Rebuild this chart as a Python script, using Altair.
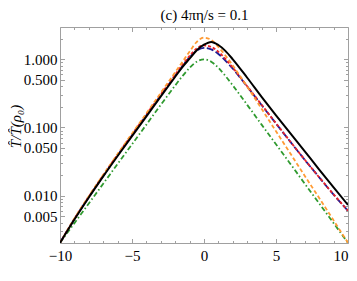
import altair as alt
import pandas as pd

x_vals = [-10, -9, -8, -7, -6, -5, -4, -3, -2, -1.5, -1, -0.5, 0, 0.5, 1, 1.5, 2, 3, 4, 5, 6, 7, 8, 9, 10]

black = [0.00202, 0.00444, 0.00935, 0.0191, 0.0381, 0.0747, 0.145, 0.285, 0.555, 0.77, 1.02, 1.36, 1.64,
         1.80, 1.62, 1.32, 1.00, 0.536, 0.281, 0.150, 0.0815, 0.0444, 0.0241, 0.0132, 0.00727]
orange = [0.00202, 0.0046, 0.0098, 0.0201, 0.0407, 0.081, 0.161, 0.322, 0.645, 0.916, 1.30, 1.80, 2.08,
          1.92, 1.52, 1.13, 0.81, 0.397, 0.1875, 0.0877, 0.0413, 0.0194, 0.0092, 0.00432, 0.00202]
red = [0.00202, 0.00456, 0.00965, 0.0198, 0.0399, 0.0787, 0.155, 0.305, 0.595, 0.831, 1.124, 1.44, 1.60,
       1.52, 1.288, 1.007, 0.753, 0.403, 0.215, 0.115, 0.0617, 0.0335, 0.0185, 0.0104, 0.0060]
blue = [0.00202, 0.00452, 0.0095, 0.0194, 0.039, 0.077, 0.151, 0.296, 0.575, 0.797, 1.071, 1.348, 1.47,
        1.40, 1.198, 0.95, 0.728, 0.397, 0.213, 0.114, 0.0614, 0.0334, 0.0185, 0.0103, 0.00596]
green = [0.00202, 0.00393, 0.00766, 0.0149, 0.0291, 0.0566, 0.110, 0.2145, 0.4135, 0.5655, 0.749, 0.923, 1.0,
         0.923, 0.749, 0.5655, 0.4135, 0.2145, 0.110, 0.0566, 0.0291, 0.0149, 0.00766, 0.00393, 0.00202]

x_label_values = [-10, -5, 0, 5, 10]
x_minor_values = [-9, -8, -7, -6, -4, -3, -2, -1, 1, 2, 3, 4, 6, 7, 8, 9]
y_label_values = [0.005, 0.01, 0.05, 0.1, 0.5, 1.0]
y_minor_values = [0.003, 0.004, 0.006, 0.007, 0.008, 0.009, 0.02, 0.03, 0.04, 0.06, 0.07, 0.08, 0.09,
                  0.2, 0.3, 0.4, 0.6, 0.7, 0.8, 0.9, 2.0]

TITLE = "(c) 4\u03c0\u03b7/s = 0.1"
YTITLE = "T\u0302/T\u0302(\u03c1\u2080)"

df = pd.DataFrame({"x": x_vals, "black": black, "orange": orange, "red": red,
                   "blue": blue, "green": green})

W, H = 288, 216
FONT = "Liberation Serif"
GRAY = "#a0a0a0"

xs = alt.Scale(domain=[-10, 10], nice=False, zero=False)
ys = alt.Scale(type="log", domain=[0.00201, 2.98], nice=False)


def line(col, color, dash, width, xaxis=None, yaxis=None):
    mk = dict(color=color, strokeWidth=width, interpolate="monotone", clip=True)
    if dash:
        mk["strokeDash"] = dash
    return alt.Chart(df).mark_line(**mk).encode(
        x=alt.X("x:Q", scale=xs, axis=xaxis),
        y=alt.Y(f"{col}:Q", scale=ys, axis=yaxis),
    )


label_x = alt.Axis(orient="bottom", values=x_label_values[:-1], ticks=False, domain=False, grid=False,
                   title=None, labelFont=FONT, labelFontSize=15, labelColor="black",
                   labelPadding=5, format="d", labelFlush=False)
label_y = alt.Axis(orient="left", values=y_label_values, ticks=False, domain=False, grid=False,
                   format=".3f", labelFont=FONT, labelFontSize=15, labelColor="black",
                   labelPadding=3, title=YTITLE, titleFont=FONT,
                   titleFontSize=15, titleFontStyle="italic", titleFontWeight="normal",
                   titleColor="black", titleX=-45, titleY=99, titleAngle=270,
                   titleAlign="center", titleBaseline="middle")


def tick_layer(xorient, xoff, yorient, yoff, xvals, yvals, size, title=None):
    xkw = dict(orient=xorient, offset=xoff, values=xvals, labels=False, domain=False,
               grid=False, tickSize=size, tickColor=GRAY, tickWidth=1)
    if title:
        xkw.update(title=title, titleFont=FONT, titleFontSize=15, titleFontWeight="normal",
                   titleColor="black", titleX=W / 2, titleY=-8, titleAlign="center",
                   titleBaseline="alphabetic")
    else:
        xkw["title"] = None
    ax = alt.Axis(**xkw)
    ay = alt.Axis(orient=yorient, offset=yoff, values=yvals, labels=False, domain=False,
                  grid=False, title=None, tickSize=size, tickColor=GRAY, tickWidth=1)
    return alt.Chart(df).mark_point(opacity=0).encode(
        x=alt.X("x:Q", scale=xs, axis=ax),
        y=alt.Y("green:Q", scale=ys, axis=ay),
    )


# last x label kept inside the page: flush with the end of the axis
last_label = alt.Chart(df).mark_point(opacity=0).encode(
    x=alt.X("x:Q", scale=xs, axis=alt.Axis(orient="bottom", values=x_label_values[-1:], ticks=False,
                                           domain=False, grid=False, title=None, labelFont=FONT,
                                           labelFontSize=15, labelColor="black", labelPadding=5,
                                           format="d", labelFlush=1)),
    y=alt.Y("green:Q", scale=ys, axis=None),
)

layers = [
    line("green", "#2f9a2f", [5, 2.5, 1.5, 2.5], 1.8, label_x, label_y),
    line("blue", "#1c1c96", [7, 2.5], 1.8),
    line("red", "#e8232a", [3, 2], 1.8),
    line("orange", "#ff9a33", [4, 2.5], 1.8),
    line("black", "#000000", None, 2.0),
    tick_layer("top", -H, "right", -W, x_label_values, y_label_values, 4.5),
    tick_layer("top", -H, "right", -W, x_minor_values, y_minor_values, 2.5),
    tick_layer("bottom", -H, "left", -W, x_label_values, y_label_values, 4.5, title=TITLE),
    tick_layer("bottom", -H, "left", -W, x_minor_values, y_minor_values, 2.5),
    last_label,
]

chart = alt.layer(*layers).resolve_axis(x="independent", y="independent").properties(
    width=W, height=H,
    autosize=alt.AutoSizeParams(type="none"),
    padding={"left": 52, "top": 19, "right": 1, "bottom": 22},
).configure_view(stroke=GRAY, strokeWidth=1)

chart.save("out.html", embed_options={"renderer": "svg", "actions": False})
